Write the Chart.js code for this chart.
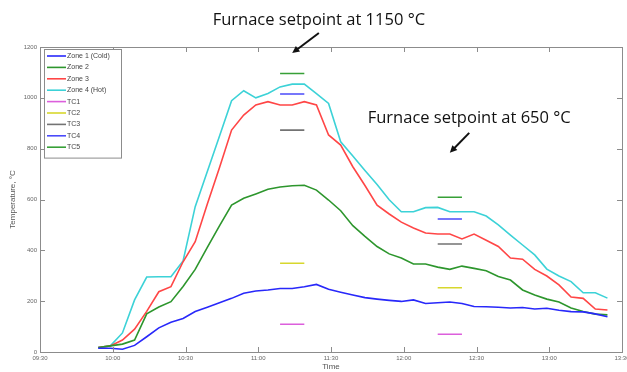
<!DOCTYPE html>
<html>
<head>
<meta charset="utf-8">
<script src="https://cdn.jsdelivr.net/npm/chart.js@4.4.0/dist/chart.umd.min.js"></script>
<style>
  html, body { margin: 0; padding: 0; background: #fff; }
  #wrap { position: relative; width: 627px; height: 372px; }
</style>
</head>
<body>
<div id="wrap"><canvas id="furnace-chart" width="627" height="372"></canvas></div>
<script>
// Logged zone temperatures, one reading every 5 minutes
const times = ['09:54', '09:59', '10:04', '10:09', '10:14', '10:19', '10:24', '10:29', '10:34', '10:39',
               '10:44', '10:49', '10:54', '10:59', '11:04', '11:09', '11:14', '11:19', '11:24', '11:29',
               '11:34', '11:39', '11:44', '11:49', '11:54', '11:59', '12:04', '12:09', '12:14', '12:19',
               '12:24', '12:29', '12:34', '12:39', '12:44', '12:49', '12:54', '12:59', '13:04', '13:09',
               '13:14', '13:19', '13:24'];

const zone1 = [15, 15, 11, 26, 60, 95, 117, 132, 159, 176, 194, 211, 231, 240, 244, 250, 250, 257, 266, 247,
               235, 224, 214, 208, 203, 199, 205, 191, 194, 197, 191, 179, 178, 176, 173, 175, 169, 172, 164, 159,
               158, 150, 139];
const zone2 = [18, 24, 31, 47, 150, 177, 198, 258, 325, 412, 496, 578, 605, 622, 640, 649, 654, 656, 637, 598,
               556, 497, 455, 415, 386, 370, 346, 346, 334, 325, 338, 329, 320, 297, 283, 244, 224, 208, 197, 173,
               159, 149, 146];
const zone3 = [18, 24, 47, 90, 160, 237, 257, 355, 434, 582, 725, 873, 932, 972, 985, 972, 972, 985, 972, 854,
               814, 729, 655, 578, 543, 511, 488, 468, 464, 464, 445, 464, 440, 415, 370, 365, 325, 299, 264, 216,
               211, 169, 165];
const zone4 = [18, 24, 75, 205, 295, 296, 296, 358, 572, 710, 849, 989, 1028, 1000, 1017, 1043, 1054, 1054, 1017, 978,
               827, 771, 714, 659, 599, 552, 552, 568, 569, 552, 552, 552, 535, 500, 460, 421, 382, 326, 299, 277,
               233, 233, 212];

// Thermocouple readings held at each setpoint (start, end of each hold)
const tcTimes = [['11:09', '11:19'], ['12:14', '12:24']];
const tc1 = [109, 70];
const tc2 = [349, 253];
const tc3 = [873, 425];
const tc4 = [1015, 523];
const tc5 = [1096, 609];

const yTicks = { min: 0, max: 1200, step: 200 };
const xTicks = { min: '09:30', max: '13:30', step: 30 };

function toMinutes(t) {
    const [h, m] = t.split(':').map(Number);
    return h * 60 + m;
}

function fmtTime(v) {
    const pad = n => String(n).padStart(2, '0');
    return pad(Math.floor(v / 60)) + ':' + pad(Math.round(v % 60));
}

function zoneSeries(values) {
    return values.map((v, i) => ({ x: toMinutes(times[i]), y: v }));
}

function tcSeries(values) {
    const pts = [];
    tcTimes.forEach((span, i) => {
        if (i > 0) pts.push({ x: toMinutes(span[0]) - 1, y: null });
        pts.push({ x: toMinutes(span[0]), y: values[i] });
        pts.push({ x: toMinutes(span[1]), y: values[i] });
    });
    return pts;
}

const lineDefaults = { borderWidth: 1.6, pointRadius: 0, tension: 0, fill: false, spanGaps: false };

const datasets = [
    { label: 'Zone 1 (Cold)', data: zoneSeries(zone1), borderColor: 'rgb(40,40,250)' },
    { label: 'Zone 2', data: zoneSeries(zone2), borderColor: 'rgb(45,150,45)' },
    { label: 'Zone 3', data: zoneSeries(zone3), borderColor: 'rgb(255,70,70)' },
    { label: 'Zone 4 (Hot)', data: zoneSeries(zone4), borderColor: 'rgb(60,210,215)' },
    { label: 'TC1', data: tcSeries(tc1), borderColor: 'rgb(220,95,220)' },
    { label: 'TC2', data: tcSeries(tc2), borderColor: 'rgb(215,215,45)' },
    { label: 'TC3', data: tcSeries(tc3), borderColor: 'rgb(115,115,115)' },
    { label: 'TC4', data: tcSeries(tc4), borderColor: 'rgb(75,75,250)' },
    { label: 'TC5', data: tcSeries(tc5), borderColor: 'rgb(55,160,55)' }
].map(ds => Object.assign({}, lineDefaults, ds));

// box around the axes with inward tick marks on all four sides
const framePlugin = {
    id: 'frame',
    afterDraw(chart) {
        const { ctx, chartArea: a, scales: { x, y } } = chart;
        ctx.save();
        ctx.strokeStyle = '#8c8c8c';
        ctx.lineWidth = 1;
        ctx.strokeRect(Math.round(a.left) + 0.5, Math.round(a.top) + 0.5,
                       Math.round(a.right - a.left), Math.round(a.bottom - a.top));
        ctx.beginPath();
        x.ticks.forEach(t => {
            const px = Math.round(x.getPixelForValue(t.value)) + 0.5;
            ctx.moveTo(px, a.bottom); ctx.lineTo(px, a.bottom - 5);
            ctx.moveTo(px, a.top); ctx.lineTo(px, a.top + 5);
        });
        y.ticks.forEach(t => {
            const py = Math.round(y.getPixelForValue(t.value)) + 0.5;
            ctx.moveTo(a.left, py); ctx.lineTo(a.left + 5, py);
            ctx.moveTo(a.right, py); ctx.lineTo(a.right - 5, py);
        });
        ctx.stroke();
        ctx.restore();
    }
};

// boxed legend in the top-left corner of the plot
const boxLegend = {
    id: 'boxLegend',
    afterDraw(chart) {
        const { ctx, chartArea: a } = chart;
        const sets = chart.data.datasets;
        const left = a.left + 4, top = a.top + 2;
        const rowH = 11.4, w = 77, h = sets.length * rowH + 6;
        ctx.save();
        ctx.fillStyle = '#fff';
        ctx.fillRect(left, top, w, h);
        ctx.strokeStyle = '#8c8c8c';
        ctx.lineWidth = 1;
        ctx.strokeRect(left + 0.5, top + 0.5, w, h);
        ctx.font = '7px "Liberation Sans", Arial, sans-serif';
        ctx.textBaseline = 'middle';
        sets.forEach((ds, i) => {
            const cy = top + 7 + i * rowH;
            ctx.strokeStyle = ds.borderColor;
            ctx.lineWidth = 1.6;
            ctx.beginPath();
            ctx.moveTo(left + 3, cy);
            ctx.lineTo(left + 22, cy);
            ctx.stroke();
            ctx.fillStyle = '#444';
            ctx.fillText(ds.label, left + 23, cy);
        });
        ctx.restore();
    }
};

// setpoint notes with arrows, placed in data coordinates
const notes = [
    { text: 'Furnace setpoint at 1150 \u00b0C', at: ['11:25', 1306], from: ['11:25', 1255], to: ['11:14', 1176] },
    { text: 'Furnace setpoint at 650 \u00b0C', at: ['12:27', 920], from: ['12:27', 862], to: ['12:19', 784] }
];

const notePlugin = {
    id: 'notes',
    afterDraw(chart) {
        const { ctx, scales: { x, y } } = chart;
        const px = p => [x.getPixelForValue(toMinutes(p[0])), y.getPixelForValue(p[1])];
        ctx.save();
        notes.forEach(n => {
            const [tx, ty] = px(n.at);
            ctx.font = '16.5px "Open Sans", "Noto Sans", sans-serif';
            ctx.fillStyle = '#111';
            ctx.textAlign = 'center';
            ctx.textBaseline = 'middle';
            ctx.fillText(n.text, tx, ty);

            const [x0, y0] = px(n.from);
            const [x1, y1] = px(n.to);
            const ang = Math.atan2(y1 - y0, x1 - x0);
            const head = 8;
            ctx.strokeStyle = '#111';
            ctx.lineWidth = 2;
            ctx.beginPath();
            ctx.moveTo(x0, y0);
            ctx.lineTo(x1 - Math.cos(ang) * head * 0.7, y1 - Math.sin(ang) * head * 0.7);
            ctx.stroke();
            ctx.fillStyle = '#111';
            ctx.beginPath();
            ctx.moveTo(x1, y1);
            ctx.lineTo(x1 - head * Math.cos(ang - 0.45), y1 - head * Math.sin(ang - 0.45));
            ctx.lineTo(x1 - head * Math.cos(ang + 0.45), y1 - head * Math.sin(ang + 0.45));
            ctx.closePath();
            ctx.fill();
        });
        ctx.restore();
    }
};

const tickFont = { family: '"Liberation Sans", Arial, sans-serif', size: 6 };
const titleFont = { family: '"Liberation Sans", Arial, sans-serif', size: 8 };

new Chart(document.getElementById('furnace-chart').getContext('2d'), {
    type: 'line',
    data: { datasets },
    options: {
        responsive: false,
        animation: false,
        layout: { padding: { top: 47, right: 5, left: 0, bottom: 0 } },
        plugins: {
            legend: { display: false },
            tooltip: { enabled: false }
        },
        scales: {
            x: {
                type: 'linear',
                min: toMinutes(xTicks.min),
                max: toMinutes(xTicks.max),
                grid: { display: false, drawTicks: false },
                border: { display: false },
                ticks: {
                    stepSize: xTicks.step,
                    maxRotation: 0,
                    autoSkip: false,
                    padding: 3,
                    color: '#666',
                    font: tickFont,
                    callback: v => fmtTime(v)
                },
                title: { display: true, text: 'Time', color: '#555', font: titleFont, padding: { top: 0, bottom: 0 } },
                afterFit: s => { s.height = 20; s.paddingLeft = 0; s.paddingRight = 0; }
            },
            y: {
                min: yTicks.min,
                max: yTicks.max,
                grid: { display: false, drawTicks: false },
                border: { display: false },
                ticks: { stepSize: yTicks.step, padding: 3, color: '#666', font: tickFont, callback: v => String(v) },
                title: { display: true, text: 'Temperature, \u00b0C', color: '#555', font: titleFont, padding: { top: 8, bottom: 0 } },
                afterFit: s => { s.width = 40; s.paddingTop = 0; s.paddingBottom = 0; }
            }
        }
    },
    plugins: [framePlugin, boxLegend, notePlugin]
});
</script>
</body>
</html>
